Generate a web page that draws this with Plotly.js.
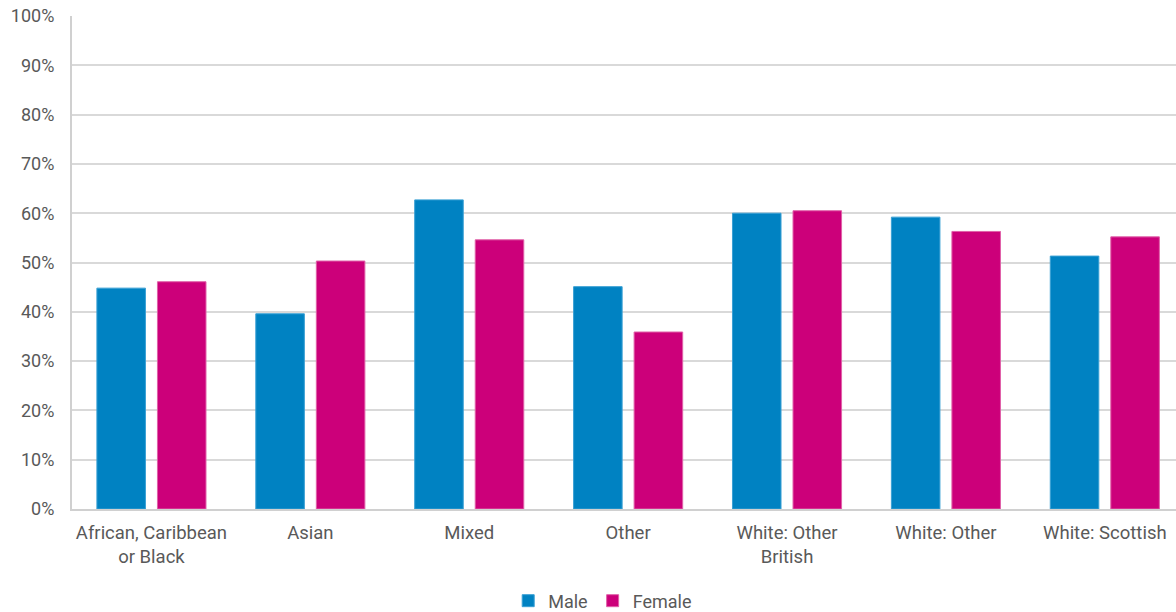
<!DOCTYPE html>
<html>
<head>
<meta charset="utf-8">
<script src="https://cdn.plot.ly/plotly-3.0.1.min.js"></script>
<style>html,body{margin:0;padding:0;background:#fff;}#chart{width:1176px;height:612px;}</style>
</head>
<body>
<div id="chart"></div>
<script>
var categories = ["African, Caribbean<br>or Black", "Asian", "Mixed", "Other", "White: Other<br>British", "White: Other", "White: Scottish"];
var maleValues = [0.448, 0.396, 0.627, 0.451, 0.600, 0.592, 0.513];
var femaleValues = [0.461, 0.503, 0.546, 0.359, 0.605, 0.563, 0.552];
var yTickVals = [0, 0.1, 0.2, 0.3, 0.4, 0.5, 0.6, 0.7, 0.8, 0.9, 1.0];

var traces = [
  {type: "bar", name: "Male", x: categories, y: maleValues,
   marker: {color: "#0082C2", line: {color: "#3aa0d4", width: 1}}, hoverinfo: "none"},
  {type: "bar", name: "Female", x: categories, y: femaleValues,
   marker: {color: "#CC007A", line: {color: "#e060a8", width: 1}}, hoverinfo: "none"}
];

var layout = {
  width: 1176, height: 612,
  margin: {l: 72, r: 0, t: 16, b: 103},
  paper_bgcolor: "#ffffff", plot_bgcolor: "#ffffff",
  font: {family: "Roboto, sans-serif", size: 18, color: "#595959"},
  barmode: "group", bargap: 0.238, bargroupgap: 0.198,
  showlegend: true,
  legend: {orientation: "h", x: 0.5125, xref: "container", xanchor: "center",
           y: 0.018, yref: "container", yanchor: "middle",
           font: {size: 18, color: "#595959"}, itemwidth: 30, traceorder: "normal"},
  xaxis: {type: "category", range: [-0.5, 6.448], showline: true, linecolor: "#d0d0d0", linewidth: 2, automargin: false,
          showgrid: false, ticks: "", tickfont: {size: 18.5, color: "#595959"}, ticklabelstandoff: 6},
  yaxis: {range: [0, 1], tickvals: yTickVals, tickformat: ".0%", showline: true, automargin: false,
          linecolor: "#d0d0d0", linewidth: 2, gridcolor: "#d9d9d9", gridwidth: 2,
          zeroline: false, ticks: "", tickfont: {size: 18, color: "#595959"}, ticklabelstandoff: 12}
};

Plotly.newPlot("chart", traces, layout, {displayModeBar: false, staticPlot: true});
</script>
</body>
</html>
